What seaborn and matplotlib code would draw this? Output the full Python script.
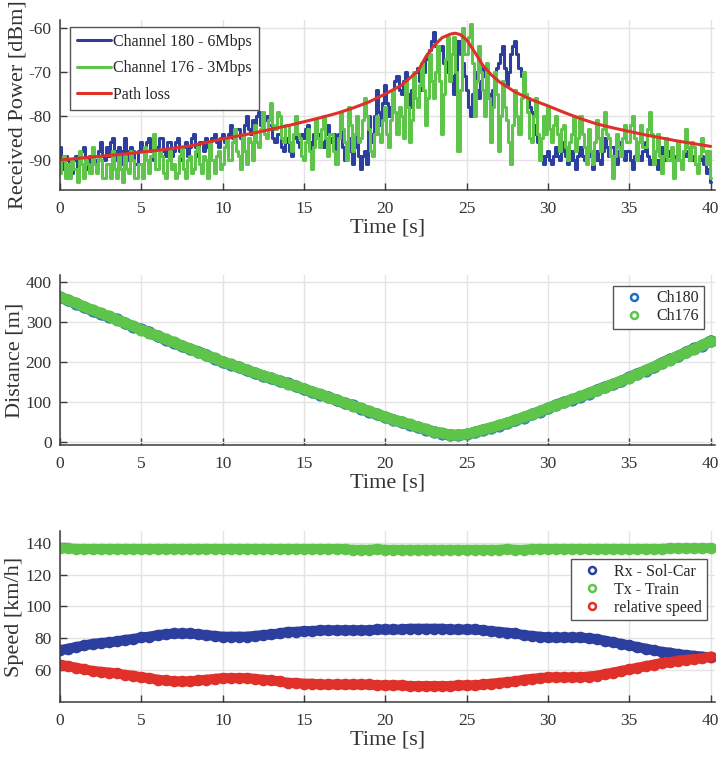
import numpy as np
import pandas as pd
import matplotlib
matplotlib.use("Agg")
import matplotlib.pyplot as plt
from matplotlib.lines import Line2D
import seaborn as sns

# ---------------- data ----------------
# received power sampled every 0.125 s (0..40 s), one row per second
power_time = np.arange(321) * 0.125
ch176_power = [
    -93, -90, -89, -94, -91, -94, -90, -92,
    -92, -95, -88, -91, -94, -90, -91, -93,
    -87, -91, -93, -89, -90, -94, -94, -91,
    -91, -94, -88, -92, -94, -89, -92, -95,
    -89, -92, -93, -88, -90, -94, -94, -91,
    -91, -94, -87, -90, -93, -89, -84, -92,
    -92, -88, -89, -93, -94, -90, -88, -92,
    -91, -94, -93, -89, -87, -92, -94, -90,
    -89, -93, -92, -88, -87, -91, -93, -89,
    -90, -94, -86, -90, -93, -89, -88, -92,
    -91, -87, -85, -90, -90, -86, -83, -88,
    -89, -92, -84, -88, -91, -85, -86, -90,
    -82, -86, -87, -83, -79, -84, -85, -81,
    -77, -82, -83, -79, -80, -85, -86, -82,
    -82, -86, -88, -84, -80, -84, -85, -89,
    -90, -86, -83, -88, -92, -87, -81, -85,
    -87, -83, -80, -85, -89, -84, -84, -88,
    -91, -85, -79, -83, -86, -90, -78, -82,
    -88, -84, -80, -86, -85, -81, -76, -80,
    -83, -88, -89, -84, -80, -84, -86, -81,
    -78, -84, -87, -81, -74, -79, -84, -78,
    -80, -85, -72, -78, -86, -81, -70, -76,
    -78, -73, -68, -74, -82, -76, -66, -72,
    -76, -70, -64, -72, -84, -75, -67, -62,
    -72, -66, -62, -70, -88, -74, -60, -66,
    -66, -62, -59, -68, -80, -72, -64, -70,
    -74, -80, -68, -76, -86, -78, -70, -75,
    -88, -80, -72, -78, -81, -86, -91, -82,
    -74, -80, -84, -76, -70, -75, -79, -85,
    -86, -80, -76, -84, -90, -85, -80, -84,
    -78, -83, -86, -82, -80, -84, -88, -83,
    -82, -87, -90, -86, -84, -80, -88, -85,
    -80, -84, -87, -91, -83, -88, -91, -86,
    -81, -85, -88, -83, -79, -84, -85, -89,
    -94, -89, -84, -87, -89, -85, -82, -86,
    -86, -82, -80, -85, -90, -86, -82, -87,
    -87, -83, -79, -84, -91, -88, -84, -89,
    -93, -89, -85, -90, -90, -87, -94, -90,
    -86, -90, -92, -88, -83, -87, -90, -86,
    -87, -91, -93, -89, -85, -88, -91, -88,
    -94,
]
ch180_power = [
    -87, -90, -92, -89, -90, -93, -93, -90,
    -89, -92, -91, -88, -87, -90, -92, -89,
    -88, -90, -91, -88, -86, -89, -90, -87,
    -89, -86, -85, -88, -90, -87, -88, -91,
    -85, -88, -90, -87, -88, -91, -91, -88,
    -86, -88, -89, -86, -85, -88, -90, -87,
    -87, -85, -85, -88, -89, -86, -86, -89,
    -88, -86, -85, -88, -90, -87, -86, -89,
    -87, -85, -84, -87, -89, -86, -86, -88,
    -85, -87, -88, -85, -84, -86, -87, -85,
    -84, -86, -87, -84, -82, -85, -86, -83,
    -83, -85, -86, -82, -80, -83, -84, -81,
    -82, -80, -79, -82, -83, -81, -80, -82,
    -82, -85, -86, -84, -84, -87, -88, -85,
    -86, -88, -89, -85, -83, -86, -87, -84,
    -85, -83, -82, -86, -88, -84, -81, -85,
    -84, -86, -87, -84, -82, -85, -86, -84,
    -88, -84, -82, -87, -90, -87, -85, -88,
    -91, -87, -84, -89, -92, -89, -88, -91,
    -80, -84, -86, -80, -74, -79, -82, -77,
    -73, -77, -80, -78, -76, -72, -71, -74,
    -75, -72, -70, -75, -78, -74, -72, -70,
    -69, -72, -74, -70, -67, -66, -65, -63,
    -61, -64, -67, -65, -64, -68, -70, -67,
    -66, -71, -75, -70, -63, -66, -68, -71,
    -74, -78, -80, -75, -70, -74, -76, -72,
    -69, -71, -72, -75, -78, -74, -71, -69,
    -68, -66, -64, -69, -73, -70, -66, -64,
    -63, -66, -69, -71, -72, -75, -76, -78,
    -79, -82, -84, -86, -86, -89, -91, -89,
    -88, -90, -91, -89, -87, -89, -90, -88,
    -86, -89, -91, -90, -88, -90, -92, -89,
    -87, -89, -90, -88, -86, -89, -92, -90,
    -88, -90, -91, -88, -85, -87, -89, -87,
    -87, -89, -91, -88, -86, -88, -90, -88,
    -88, -90, -92, -89, -87, -89, -90, -88,
    -86, -89, -91, -90, -88, -90, -92, -90,
    -87, -89, -90, -89, -88, -90, -91, -89,
    -89, -90, -91, -89, -88, -89, -90, -89,
    -90, -91, -92, -90, -89, -91, -93, -92,
    -95,
]
pathloss_time = [0, 2, 4, 6, 8, 10, 12, 14, 15, 16, 17, 18, 19, 20, 21, 22, 22.5, 23,
                 23.5, 24, 24.3, 24.6, 25, 25.5, 26, 26.5, 27, 28, 29, 30, 31, 32, 33,
                 34, 35, 36, 37, 38, 39, 40]
pathloss = [-90.0, -89.3, -88.6, -87.8, -86.8, -85.2, -83.8, -82.2, -81.3, -80.4, -79.4,
            -78.2, -76.8, -75.0, -73.0, -69.8, -66.5, -64.0, -62.2, -61.4, -61.2, -61.5,
            -62.7, -65.5, -68.5, -70.6, -72.2, -74.6, -76.3, -77.7, -79.2, -80.6, -81.8,
            -82.7, -83.5, -84.3, -85.0, -85.7, -86.3, -86.9]

# distance and speed sampled every 0.5 s (0..40 s)
track_time = np.arange(81) * 0.5
dist_ch176 = [362, 354, 346, 337, 329, 321, 313, 305, 297, 288, 280, 272, 264, 256, 248,
              240, 232, 224, 216, 208, 200, 193, 186, 179, 172, 165, 159, 152, 145, 139,
              132, 125, 118, 111, 104, 97, 90, 83, 76, 69, 62, 55, 49, 43, 37, 31, 25,
              21, 17, 16, 19, 24, 30, 35, 41, 47, 54, 61, 68, 76, 84, 91, 98, 106, 113,
              121, 128, 136, 144, 152, 160, 169, 178, 187, 196, 205, 214, 223, 232, 241,
              251]
dist_ch180 = [361, 353, 345, 336, 327, 319, 312, 306, 296, 287, 281, 273, 263, 255, 247,
              239, 231, 225, 217, 207, 199, 192, 186, 178, 171, 164, 158, 151, 146, 138,
              131, 124, 117, 112, 103, 96, 91, 82, 75, 68, 61, 55, 48, 42, 36, 30, 25,
              20, 17, 16, 18, 23, 29, 34, 40, 46, 53, 60, 68, 75, 83, 92, 99, 105, 112,
              120, 129, 137, 143, 151, 161, 170, 177, 186, 197, 206, 213, 224, 233, 240,
              252]
speed_rx = [72.5, 73.5, 74.5, 75.5, 76.5, 77, 77.5, 78, 79, 79.5, 80.5, 81, 82, 82.5, 83,
            83, 83, 82.5, 82, 81.5, 81, 81, 81, 81, 81.5, 82, 82.5, 83, 84, 84, 84.5,
            84.5, 85, 85, 85, 85, 85, 85, 85, 85.5, 85.5, 85.5, 85.5, 86, 86, 86, 86, 86,
            85.5, 85.5, 85.5, 85.5, 85, 84.5, 84, 83.5, 83, 82, 81.5, 81, 80.5, 80.5,
            80.5, 80.5, 80.5, 80, 79.5, 78.5, 77.5, 76.5, 75.5, 74.5, 73.5, 72.5, 71.5,
            71, 70, 69.5, 69, 68.5, 68]
speed_tx = [136.5, 136.5, 136, 136, 136, 136, 136, 136, 136, 136, 136, 136, 136, 136, 136,
            136, 136, 136, 136, 136, 136, 136, 136, 136, 136, 136, 136, 136, 136, 136,
            136, 136, 136, 136, 136, 136, 135.5, 135.5, 135.5, 136, 135.5, 135.5, 135.5,
            135.5, 135.5, 135.5, 135.5, 135.5, 135.5, 135.5, 135.5, 135.5, 135.5, 135.5,
            135.5, 136, 135.5, 135.5, 136, 136, 136, 136, 136, 136, 136, 136, 136, 136,
            136, 136, 136, 136, 136, 136, 136, 136.5, 136.5, 136.5, 136.5, 136.5, 136.5]
speed_rel = [63.5, 62.5, 61.5, 60.5, 59.5, 59, 58.5, 58, 57, 56.5, 55.5, 55, 54, 53.5, 53,
             53, 53, 53.5, 54, 54.5, 55, 55, 55, 55, 54.5, 54, 53.5, 53, 52, 52, 51.5,
             51.5, 51, 51, 51, 51, 51, 51, 51, 50.5, 50.5, 50.5, 50.5, 50, 50, 50, 50, 50,
             50, 50.5, 50.5, 50.5, 51, 51.5, 52, 52.5, 53, 54, 54.5, 55, 55.5, 55.5, 55.5,
             55.5, 55.5, 56, 56.5, 57.5, 58.5, 59.5, 60.5, 61.5, 62.5, 63.5, 64.5, 65, 66,
             66.5, 67, 67.5, 68.5]

power_labels = ["Channel 180 - 6Mbps", "Channel 176 - 3Mbps", "Path loss"]
dist_labels = ["Ch180", "Ch176"]
speed_labels = ["Rx - Sol-Car", "Tx - Train", "relative speed"]

# ---------------- style ----------------
BLUE = "#2c3f9e"
GREEN = "#5ec44a"
RED = "#e0302a"
LBLUE = "#1f6fc0"
AX = "#3a3a3a"

sns.set_theme(style="whitegrid")
plt.rcParams["font.family"] = ["Liberation Serif", "DejaVu Serif"]
plt.rcParams["axes.unicode_minus"] = False
plt.rcParams["mathtext.default"] = "regular"

W, H = 721, 759
fig = plt.figure(figsize=(W / 100, H / 100), dpi=100)

def make_ax(top_px, bot_px):
    return fig.add_axes([60 / W, 1 - bot_px / H, (715 - 60) / W, (bot_px - top_px) / H])

ax1 = make_ax(20, 190)
ax2 = make_ax(275, 445)
ax3 = make_ax(531, 702)

TICK_FS = 12.5
LAB_FS = 16
LEG_FS = 11.5

def style(ax, ylim, yticks, ylabel):
    ax.set_xlim(0, 40.27)
    ax.set_ylim(*ylim)
    ax.set_xticks(np.arange(0, 41, 5))
    ax.set_yticks(yticks)
    ax.set_facecolor("white")
    ax.grid(True, color="#e4e4e4", linewidth=1.0)
    ax.set_axisbelow(True)
    for s in ["top", "right"]:
        ax.spines[s].set_visible(False)
    for s in ["left", "bottom"]:
        ax.spines[s].set_visible(True)
        ax.spines[s].set_color(AX)
        ax.spines[s].set_linewidth(1.1)
    ax.tick_params(axis="both", which="both", direction="in", length=5, width=1.0,
                   colors=AX, labelcolor="#333333", labelsize=TICK_FS,
                   left=True, bottom=True, top=False, right=False)
    ax.tick_params(axis="x", pad=8)
    ax.tick_params(axis="y", pad=6)
    ax.set_xlabel("Time [s]", fontsize=LAB_FS, color="#333333", labelpad=1)
    ax.set_ylabel(ylabel, fontsize=LAB_FS, color="#333333", labelpad=1)

# ---------- panel 1: received power ----------
df_p = pd.DataFrame({"t": power_time, "ch180": ch180_power, "ch176": ch176_power})
sns.lineplot(data=df_p, x="t", y="ch180", ax=ax1, color=BLUE, linewidth=2.2,
             drawstyle="steps-mid", estimator=None, sort=False, label=power_labels[0])
sns.lineplot(data=df_p, x="t", y="ch176", ax=ax1, color=GREEN, linewidth=2.2,
             drawstyle="steps-mid", estimator=None, sort=False, label=power_labels[1])
sns.lineplot(x=pathloss_time, y=pathloss, ax=ax1, color=RED, linewidth=2.2,
             estimator=None, sort=False, label=power_labels[2])
style(ax1, (-96.8, -58.2), [-90, -80, -70, -60], "Received Power [dBm]")
leg1 = ax1.legend(loc="upper left", bbox_to_anchor=(69.7 / W, 1 - 26.7 / H),
                  bbox_transform=fig.transFigure, borderaxespad=0, fontsize=LEG_FS,
                  frameon=True, fancybox=False, framealpha=1, edgecolor="#555555",
                  handlelength=2.15, handletextpad=0.12, labelspacing=0.66,
                  borderpad=0.45)
leg1.get_frame().set_linewidth(1.0)
for h in leg1.get_lines():
    h.set_linewidth(2.2)
    h.set_drawstyle("default")

# ---------- panel 2: distance ----------
MS = 60
BAND = 7.8
for yv, c in ((dist_ch180, LBLUE), (dist_ch176, GREEN)):
    sns.lineplot(x=track_time, y=yv, ax=ax2, color=c, linewidth=BAND,
                 estimator=None, sort=False, legend=False, solid_capstyle="round")
    sns.scatterplot(x=track_time, y=yv, ax=ax2, marker="o", s=MS, color=c,
                    edgecolor=c, linewidth=1.0, legend=False)
style(ax2, (-8.3, 416.7), [0, 100, 200, 300, 400], "Distance [m]")
h2 = [Line2D([], [], linestyle="none", marker="o", markersize=5, markerfacecolor="none",
             markeredgecolor=c, markeredgewidth=1.8) for c in (LBLUE, GREEN)]
leg2 = ax2.legend(h2, dist_labels, loc="upper right",
                  bbox_to_anchor=(704 / W, 1 - 285.7 / H), bbox_transform=fig.transFigure,
                  borderaxespad=0, fontsize=LEG_FS, frameon=True, fancybox=False,
                  framealpha=1, edgecolor="#555555", handlelength=2.0,
                  handletextpad=0.4, labelspacing=0.12, borderpad=0.3)
leg2.get_frame().set_linewidth(1.0)

# ---------- panel 3: speed ----------
for yv, c in ((speed_rx, BLUE), (speed_tx, GREEN), (speed_rel, RED)):
    sns.lineplot(x=track_time, y=yv, ax=ax3, color=c, linewidth=BAND - 0.6,
                 estimator=None, sort=False, legend=False, solid_capstyle="round")
    sns.scatterplot(x=track_time, y=yv, ax=ax3, marker="o", s=MS - 6, color=c,
                    edgecolor=c, linewidth=1.0, legend=False)
style(ax3, (40, 147.3), [60, 80, 100, 120, 140], "Speed [km/h]")
h3 = [Line2D([], [], linestyle="none", marker="o", markersize=5, markerfacecolor="none",
             markeredgecolor=c, markeredgewidth=1.8) for c in (BLUE, GREEN, RED)]
leg3 = ax3.legend(h3, speed_labels, loc="upper right",
                  bbox_to_anchor=(706.7 / W, 1 - 559 / H), bbox_transform=fig.transFigure,
                  borderaxespad=0, fontsize=LEG_FS, frameon=True, fancybox=False,
                  framealpha=1, edgecolor="#555555", handlelength=2.0,
                  handletextpad=0.4, labelspacing=0.12, borderpad=0.3)
leg3.get_frame().set_linewidth(1.0)

fig.savefig("out.png", dpi=100, facecolor="white")
